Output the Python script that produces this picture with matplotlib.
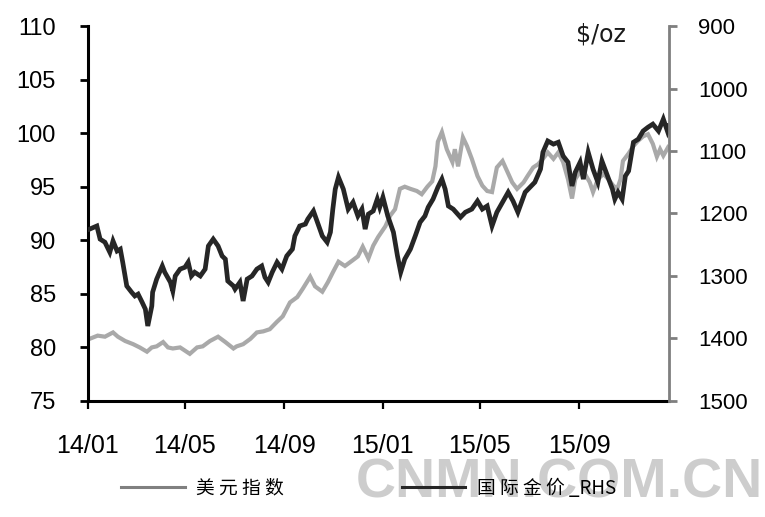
import matplotlib
matplotlib.use("Agg")
import matplotlib.pyplot as plt
from matplotlib.lines import Line2D
from matplotlib import font_manager
import pandas as pd

# %% Data

# US dollar index (left axis)
usd_dates = [
    "2014-01-03", "2014-01-13", "2014-01-22", "2014-02-01", "2014-02-07", "2014-02-16",
    "2014-02-26", "2014-03-06", "2014-03-15", "2014-03-21", "2014-03-27", "2014-04-04",
    "2014-04-10", "2014-04-16", "2014-04-25", "2014-05-01", "2014-05-07", "2014-05-16",
    "2014-05-23", "2014-06-01", "2014-06-11", "2014-06-20", "2014-06-30", "2014-07-04",
    "2014-07-12", "2014-07-21", "2014-07-29", "2014-08-06", "2014-08-14", "2014-08-23",
    "2014-08-30", "2014-09-08", "2014-09-17", "2014-09-24", "2014-10-03", "2014-10-09",
    "2014-10-18", "2014-10-25", "2014-10-31", "2014-11-07", "2014-11-15", "2014-11-24",
    "2014-12-01", "2014-12-07", "2014-12-14", "2014-12-20", "2014-12-26", "2015-01-04",
    "2015-01-10", "2015-01-16", "2015-01-22", "2015-01-28", "2015-02-04", "2015-02-12",
    "2015-02-18", "2015-02-25", "2015-03-03", "2015-03-07", "2015-03-10", "2015-03-15",
    "2015-03-21", "2015-03-28", "2015-03-31", "2015-04-04", "2015-04-10", "2015-04-15",
    "2015-04-21", "2015-04-28", "2015-05-04", "2015-05-10", "2015-05-16", "2015-05-22",
    "2015-05-29", "2015-06-04", "2015-06-10", "2015-06-16", "2015-06-24", "2015-06-29",
    "2015-07-06", "2015-07-12", "2015-07-18", "2015-07-24", "2015-07-31", "2015-08-06",
    "2015-08-12", "2015-08-18", "2015-08-23", "2015-08-27", "2015-09-02", "2015-09-08",
    "2015-09-14", "2015-09-18", "2015-09-24", "2015-10-01", "2015-10-07", "2015-10-13",
    "2015-10-18", "2015-10-22", "2015-10-25", "2015-11-01", "2015-11-07", "2015-11-13",
    "2015-11-19", "2015-11-25", "2015-12-01", "2015-12-06", "2015-12-10", "2015-12-14",
    "2015-12-20",
]
usd_index = [
    80.8, 81.1, 81.0, 81.4, 81.0, 80.6,
    80.3, 80.0, 79.6, 80.0, 80.1, 80.5,
    80.0, 79.9, 80.0, 79.7, 79.4, 80.0,
    80.1, 80.6, 81.0, 80.5, 79.9, 80.1,
    80.3, 80.8, 81.4, 81.5, 81.7, 82.4,
    82.9, 84.2, 84.7, 85.5, 86.6, 85.7,
    85.2, 86.1, 87.0, 88.0, 87.6, 88.1,
    88.5, 89.4, 88.3, 89.5, 90.3, 91.3,
    92.3, 92.9, 94.8, 95.0, 94.8, 94.6,
    94.3, 95.0, 95.5, 96.9, 99.2, 100.1,
    98.5, 97.3, 98.5, 96.9, 99.6, 98.8,
    97.6, 96.0, 95.1, 94.6, 94.5, 96.8,
    97.4, 96.4, 95.4, 94.8, 95.4, 96.0,
    96.8, 97.1, 97.6, 98.2, 97.6, 98.2,
    97.3, 95.7, 93.9, 95.7, 96.4, 96.2,
    95.4, 94.5, 95.7, 96.2, 95.7, 95.1,
    94.8, 95.7, 97.4, 98.1, 98.8, 99.3,
    99.7, 99.9, 99.0, 97.8, 98.5, 97.9,
    98.7,
]

# International gold price, $/oz (right axis, inverted)
gold_dates = [
    "2014-01-03", "2014-01-12", "2014-01-16", "2014-01-22", "2014-01-28", "2014-02-01",
    "2014-02-06", "2014-02-10", "2014-02-13", "2014-02-18", "2014-02-24", "2014-02-28",
    "2014-03-04", "2014-03-09", "2014-03-13", "2014-03-16", "2014-03-21", "2014-03-22",
    "2014-03-27", "2014-04-03", "2014-04-06", "2014-04-13", "2014-04-16", "2014-04-19",
    "2014-04-25", "2014-05-01", "2014-05-05", "2014-05-09", "2014-05-13", "2014-05-20",
    "2014-05-26", "2014-05-30", "2014-06-05", "2014-06-11", "2014-06-16", "2014-06-20",
    "2014-06-23", "2014-06-30", "2014-07-02", "2014-07-08", "2014-07-12", "2014-07-17",
    "2014-07-23", "2014-07-29", "2014-08-04", "2014-08-08", "2014-08-12", "2014-08-17",
    "2014-08-23", "2014-08-29", "2014-09-04", "2014-09-11", "2014-09-14", "2014-09-20",
    "2014-09-27", "2014-09-30", "2014-10-07", "2014-10-12", "2014-10-18", "2014-10-24",
    "2014-10-28", "2014-10-31", "2014-11-03", "2014-11-07", "2014-11-13", "2014-11-19",
    "2014-11-25", "2014-12-01", "2014-12-06", "2014-12-10", "2014-12-14", "2014-12-20",
    "2014-12-25", "2014-12-28", "2015-01-01", "2015-01-07", "2015-01-14", "2015-01-19",
    "2015-01-23", "2015-01-28", "2015-02-04", "2015-02-10", "2015-02-16", "2015-02-22",
    "2015-02-26", "2015-03-04", "2015-03-10", "2015-03-15", "2015-03-19", "2015-03-23",
    "2015-03-29", "2015-04-07", "2015-04-13", "2015-04-21", "2015-04-28", "2015-05-04",
    "2015-05-10", "2015-05-16", "2015-05-22", "2015-05-29", "2015-06-05", "2015-06-11",
    "2015-06-17", "2015-06-26", "2015-07-02", "2015-07-08", "2015-07-15", "2015-07-18",
    "2015-07-24", "2015-07-31", "2015-08-06", "2015-08-12", "2015-08-18", "2015-08-23",
    "2015-08-27", "2015-09-02", "2015-09-06", "2015-09-12", "2015-09-18", "2015-09-24",
    "2015-09-29", "2015-10-06", "2015-10-12", "2015-10-15", "2015-10-19", "2015-10-24",
    "2015-10-28", "2015-11-01", "2015-11-07", "2015-11-13", "2015-11-19", "2015-11-25",
    "2015-12-01", "2015-12-08", "2015-12-14", "2015-12-19", "2015-12-21",
]
gold_price = [
    1225, 1220, 1241, 1246, 1262, 1244,
    1260, 1257, 1278, 1316, 1326, 1332,
    1329, 1342, 1353, 1380, 1348, 1326,
    1305, 1284, 1294, 1310, 1324, 1300,
    1289, 1286, 1278, 1300, 1294, 1300,
    1289, 1252, 1241, 1252, 1268, 1273,
    1308, 1316, 1321, 1310, 1340, 1305,
    1300, 1289, 1284, 1302, 1310, 1294,
    1278, 1289, 1268, 1257, 1236, 1220,
    1217, 1209, 1196, 1214, 1236, 1246,
    1230, 1193, 1161, 1142, 1161, 1193,
    1182, 1204, 1193, 1225, 1201, 1196,
    1177, 1190, 1174, 1204, 1230, 1268,
    1294, 1273, 1257, 1236, 1214, 1204,
    1190, 1177, 1158, 1145, 1161, 1188,
    1193, 1206, 1198, 1193, 1180, 1193,
    1188, 1220, 1198, 1182, 1166, 1180,
    1198, 1166, 1158, 1150, 1129, 1102,
    1084, 1089, 1086, 1108, 1118, 1156,
    1134, 1118, 1145, 1102, 1129, 1150,
    1116, 1140, 1161, 1177, 1166, 1177,
    1140, 1132, 1086, 1081, 1068, 1062,
    1057, 1068, 1049, 1068, 1060,
]

x_ticks = ["2014-01-01", "2014-05-01", "2014-09-01", "2015-01-01", "2015-05-01", "2015-09-01"]
x_labels = ["14/01", "14/05", "14/09", "15/01", "15/05", "15/09"]
usd_ticks = [75, 80, 85, 90, 95, 100, 105, 110]
gold_ticks = [900, 1000, 1100, 1200, 1300, 1400, 1500]

legend_labels = ["美 元 指 数", "国 际 金 价 _RHS"]

# %% Plot
plt.rcParams["font.family"] = ["Liberation Sans", "DejaVu Sans"]

fig = plt.figure(figsize=(7.65, 5.17), dpi=100)
ax = fig.add_axes([0.115, 0.2244, 0.7595, 0.7253])
ax2 = ax.twinx()

ax.plot(pd.to_datetime(usd_dates), usd_index, color="#a9a9a9", lw=3.0,
        solid_joinstyle="miter")
ax2.plot(pd.to_datetime(gold_dates), gold_price, color="#262626", lw=3.4,
         solid_joinstyle="miter")

ax.set_xlim(pd.Timestamp("2014-01-01"), pd.Timestamp("2015-12-21"))
ax.set_ylim(75, 110)
ax2.set_ylim(1500, 900)

ax.set_xticks(pd.to_datetime(x_ticks))
ax.set_xticklabels(x_labels)
ax.set_yticks(usd_ticks)
ax2.set_yticks(gold_ticks)

# spines
for s in ["top", "right"]:
    ax.spines[s].set_visible(False)
for s in ["top", "left", "bottom"]:
    ax2.spines[s].set_visible(False)
ax.spines["left"].set_linewidth(2.2)
ax.spines["bottom"].set_linewidth(2.2)
ax2.spines["right"].set_linewidth(2)
ax2.spines["right"].set_color("#7f7f7f")

ax.tick_params(axis="y", direction="out", length=6, width=2, labelsize=17, pad=17)
ax.tick_params(axis="x", direction="out", length=6, width=1.6, labelsize=18, pad=18)
ax2.tick_params(axis="y", direction="out", length=6, width=2, color="#7f7f7f",
                labelsize=16, pad=15)

fig.text(0.786, 0.919, "$/oz", ha="center", va="baseline", fontsize=17,
         family="DejaVu Sans", color="#1a1a1a")

# legend
handles = [Line2D([], [], color="#808080", lw=2.2),
           Line2D([], [], color="#262626", lw=2.2)]
fig.legend(handles, legend_labels, loc="center left", bbox_to_anchor=(0.158, 0.056),
           ncol=2, frameon=False, handlelength=3.4, handletextpad=0.6,
           columnspacing=6.3, borderpad=0, borderaxespad=0,
           prop={"family": ["Noto Sans CJK SC", "DejaVu Sans"], "size": 13.5})

# watermark
names = {f.name for f in font_manager.fontManager.ttflist}
if "Liberation Sans Narrow" in names:
    wm_family, wm_size = "Liberation Sans Narrow", 47
else:
    wm_family, wm_size = "Liberation Sans", 40
fig.text(0.997, 0.038, "CNMN.COM.CN", ha="right", va="baseline", fontsize=wm_size,
         fontweight="bold", family=wm_family, color="#c8c8c8", alpha=0.9)

fig.savefig("out.png", dpi=100)
